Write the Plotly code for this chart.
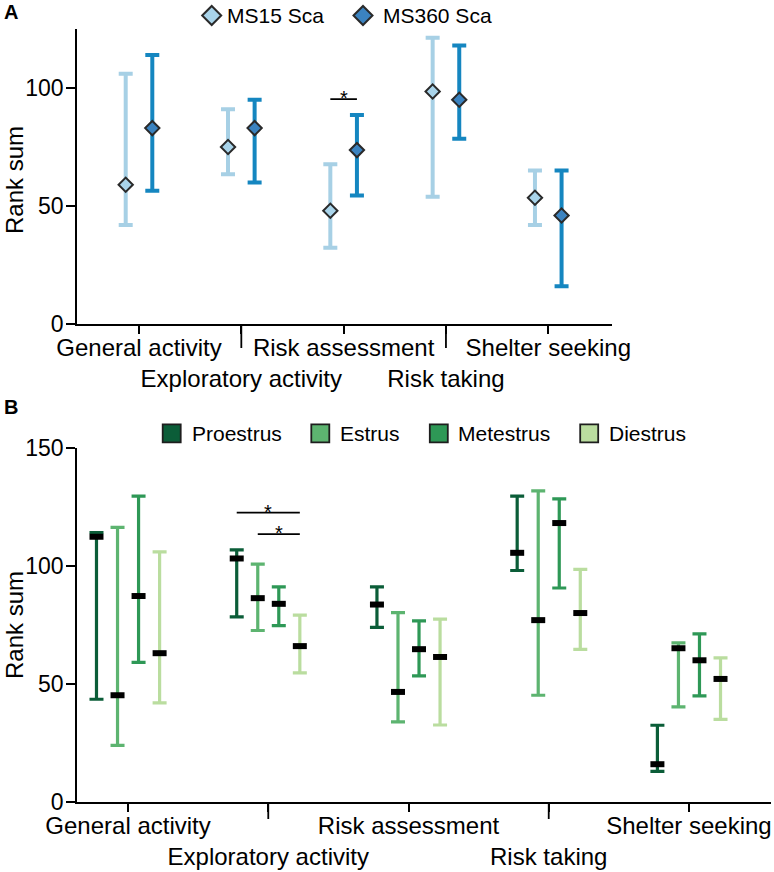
import plotly.graph_objects as go

# ---------------- data ----------------
categories = ["General activity", "Exploratory activity", "Risk assessment",
              "Risk taking", "Shelter seeking"]

# Panel A: rank sum median with range (low/high)
ms15_median = [59.0, 75.0, 48.0, 98.5, 53.5]
ms15_low = [42.0, 63.5, 32.3, 53.9, 42.0]
ms15_high = [106.0, 91.0, 67.7, 121.3, 65.0]
ms360_median = [83.0, 83.0, 73.7, 95.0, 46.0]
ms360_low = [56.5, 60.0, 54.4, 78.5, 16.0]
ms360_high = [114.0, 95.0, 88.6, 118.0, 65.0]

# Panel B: estrous cycle phases
proestrus_median = [112.3, 103.1, 83.6, 105.5, 16.0]
proestrus_low = [43.5, 78.4, 73.9, 98.0, 13.0]
proestrus_high = [114.1, 106.7, 91.1, 129.5, 32.5]
estrus_median = [45.2, 86.3, 46.6, 77.0, 65.1]
estrus_low = [24.0, 72.6, 33.9, 45.2, 40.3]
estrus_high = [116.3, 100.7, 80.2, 131.7, 67.4]
metestrus_median = [87.2, 83.9, 64.7, 118.1, 60.0]
metestrus_low = [59.1, 74.7, 53.4, 90.6, 44.9]
metestrus_high = [129.5, 91.1, 76.7, 128.3, 71.2]
diestrus_median = [63.0, 66.0, 61.4, 80.0, 52.1]
diestrus_low = [42.0, 54.7, 32.6, 64.6, 35.0]
diestrus_high = [105.9, 79.1, 77.4, 98.5, 61.0]

# significance brackets: (category index, series from, series to, y level)
sig_a = [(2, 0, 1, 95.3)]
sig_b = [(1, 0, 3, 122.5), (1, 1, 3, 113.4)]

yticks_a = [0, 50, 100]
yticks_b = [0, 50, 100, 150]

# ---------------- style / geometry ----------------
FONT = "Liberation Sans, Arial, sans-serif"
W, H = 774, 872
ML, MR, MT, MB = 77, 3, 29, 70
PW, PH = W - ML - MR, H - MT - MB


def px_x(px):
    return (px - ML) / PW


def px_y(py):
    return (H - MB - py) / PH


offs_a = [-0.13, 0.13]
offs_b = [-0.225, -0.075, 0.075, 0.225]

series_a = [
    ("MS15 Sca", ms15_median, ms15_low, ms15_high, "#a7d0e5", "#a9d4ea"),
    ("MS360 Sca", ms360_median, ms360_low, ms360_high, "#1586c0", "#3b83c0"),
]
series_b = [
    ("Proestrus", proestrus_median, proestrus_low, proestrus_high, "#0b5d38"),
    ("Estrus", estrus_median, estrus_low, estrus_high, "#5db470"),
    ("Metestrus", metestrus_median, metestrus_low, metestrus_high, "#2e9856"),
    ("Diestrus", diestrus_median, diestrus_low, diestrus_high, "#badd9f"),
]

fig = go.Figure()
n = len(categories)

for k, (name, med, lo, hi, ecol, fcol) in enumerate(series_a):
    fig.add_trace(go.Scatter(
        x=[i + offs_a[k] for i in range(n)], y=med, mode="markers", name=name,
        xaxis="x", yaxis="y", showlegend=False,
        marker=dict(symbol="diamond", size=11, color=fcol,
                    line=dict(color="#2a2a2a", width=2)),
        error_y=dict(type="data", symmetric=False,
                     array=[h - m for h, m in zip(hi, med)],
                     arrayminus=[m - l for m, l in zip(med, lo)],
                     color=ecol, thickness=4, width=7),
    ))

for k, (name, med, lo, hi, col) in enumerate(series_b):
    fig.add_trace(go.Scatter(
        x=[i + offs_b[k] for i in range(n)], y=med, mode="markers", name=name,
        xaxis="x2", yaxis="y2", showlegend=False,
        marker=dict(symbol="line-ew", size=10, color="black",
                    line=dict(color="black", width=6)),
        error_y=dict(type="data", symmetric=False,
                     array=[h - m for h, m in zip(hi, med)],
                     arrayminus=[m - l for m, l in zip(med, lo)],
                     color=col, thickness=3.2, width=7),
    ))

shapes = []
annotations = []


def add_sig(items, offs, xr, yr):
    for (g, s0, s1, yv) in items:
        shapes.append(dict(type="line", xref=xr, yref=yr,
                           x0=g + offs[s0], x1=g + offs[s1], y0=yv, y1=yv,
                           line=dict(color="black", width=1.8)))
        annotations.append(dict(xref=xr, yref=yr, x=g + (offs[s0] + offs[s1]) / 2,
                                y=yv, text="*", showarrow=False, yanchor="middle",
                                yshift=1, font=dict(family=FONT, size=20, color="black")))


add_sig(sig_a, offs_a, "x", "y")
add_sig(sig_b, offs_b, "x2", "y2")

# long ticks for the second-row labels
for i in range(1, n, 2):
    shapes.append(dict(type="line", xref="x", yref="y domain", x0=i, x1=i,
                       ysizemode="pixel", yanchor=0, y0=0, y1=-24,
                       line=dict(color="black", width=1.8)))
    shapes.append(dict(type="line", xref="x2", yref="y2 domain", x0=i, x1=i,
                       ysizemode="pixel", yanchor=0, y0=0, y1=-17,
                       line=dict(color="black", width=1.8)))

# ---- legends (drawn as swatches + text) ----
legend_a = [(211.7, 227, 15.5), (363.0, 383, 15.5)]
for (sx, tx, sy), s in zip(legend_a, series_a):
    shapes.append(dict(type="path", xref="paper", yref="paper",
                       xsizemode="pixel", ysizemode="pixel",
                       xanchor=px_x(sx), yanchor=px_y(sy),
                       path="M-9.5,0 L0,9.5 L9.5,0 L0,-9.5 Z",
                       fillcolor=s[5], line=dict(color="#2a2a2a", width=2)))
    annotations.append(dict(xref="paper", yref="paper", x=px_x(tx), y=px_y(sy),
                            text=s[0], showarrow=False, xanchor="left", yanchor="middle",
                            xshift=-2, font=dict(family=FONT, size=21, color="black")))

legend_b = [(171.7, 192, 433.3), (320.3, 340, 433.3), (438.8, 458, 433.3), (589.2, 609, 433.3)]
for (sx, tx, sy), s in zip(legend_b, series_b):
    shapes.append(dict(type="path", xref="paper", yref="paper",
                       xsizemode="pixel", ysizemode="pixel",
                       xanchor=px_x(sx), yanchor=px_y(sy),
                       path="M-9,-9 L9,-9 L9,9 L-9,9 Z",
                       fillcolor=s[4], line=dict(color="#1e1e1e", width=1.8)))
    annotations.append(dict(xref="paper", yref="paper", x=px_x(tx), y=px_y(sy),
                            text=s[0], showarrow=False, xanchor="left", yanchor="middle",
                            xshift=-2, font=dict(family=FONT, size=21, color="black")))

# panel letters and y titles
annotations.append(dict(xref="paper", yref="paper", x=px_x(2), y=px_y(12), text="<b>A</b>",
                        showarrow=False, xanchor="left", yanchor="middle",
                        font=dict(family=FONT, size=20, color="black")))
annotations.append(dict(xref="paper", yref="paper", x=px_x(2), y=px_y(407), text="<b>B</b>",
                        showarrow=False, xanchor="left", yanchor="middle",
                        font=dict(family=FONT, size=20, color="black")))
for yc in (180, 625):
    annotations.append(dict(xref="paper", yref="paper", x=px_x(14), y=px_y(yc),
                            text="Rank sum", textangle=-90, showarrow=False,
                            xanchor="center", yanchor="middle",
                            font=dict(family=FONT, size=24, color="black")))

ticktext = [c if i % 2 == 0 else "<br>" + c for i, c in enumerate(categories)]

xcommon = dict(tickmode="array", tickvals=list(range(n)), ticktext=ticktext,
               tickangle=0, automargin=False, ticklabelstandoff=-7,
               ticklabeloverflow="allow",
               ticks="outside", ticklen=8.5, tickwidth=1.8, tickcolor="black",
               showline=True, linewidth=1.8, linecolor="black",
               showgrid=False, zeroline=False,
               tickfont=dict(family=FONT, size=24, color="black"))
ycommon = dict(ticks="outside", ticklen=9, tickwidth=1.8, tickcolor="black",
               automargin=False, ticklabelstandoff=-2,
               showline=True, linewidth=1.8, linecolor="black",
               showgrid=False, zeroline=False,
               tickfont=dict(family=FONT, size=23, color="black"))

fig.update_layout(
    width=W, height=H,
    margin=dict(l=ML, r=MR, t=MT, b=MB, autoexpand=False),
    paper_bgcolor="white", plot_bgcolor="white",
    font=dict(family=FONT, color="black"),
    showlegend=False,
    xaxis=dict(domain=[0, px_x(611.7)], anchor="y", range=[-0.606, 4.62], **xcommon),
    yaxis=dict(domain=[px_y(324), 1.0], anchor="x", range=[0, 125], tickvals=yticks_a, **ycommon),
    xaxis2=dict(domain=[0, 1.0], anchor="y2", range=[-0.364, 4.585], **xcommon),
    yaxis2=dict(domain=[0, px_y(447.7)], anchor="x2", range=[0, 150], tickvals=yticks_b, **ycommon),
    shapes=shapes, annotations=annotations,
)

fig.write_html("out.html", config={"displayModeBar": False},
               post_script="document.body.style.margin='0';document.body.style.overflow='hidden';")
